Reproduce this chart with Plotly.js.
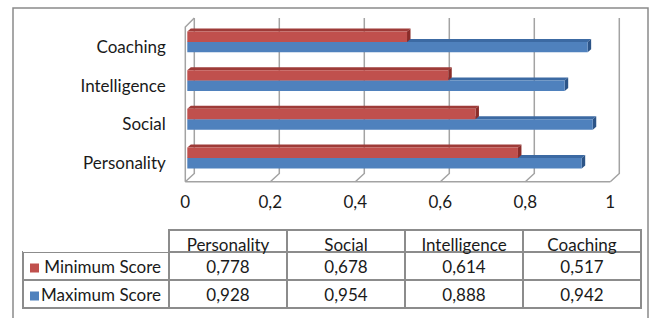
<!DOCTYPE html>
<html><head><meta charset="utf-8">
<script src="https://cdn.plot.ly/plotly-3.0.1.min.js"></script>
<style>html,body{margin:0;padding:0;background:#fff;}#chart{width:651px;height:318px;}</style>
</head><body><div id="chart"></div>
<script>
const categories = ['Personality', 'Social', 'Intelligence', 'Coaching'];
const minScore = [0.778, 0.678, 0.614, 0.517];
const maxScore = [0.928, 0.954, 0.888, 0.942];
const seriesNames = ['Minimum Score', 'Maximum Score'];
const xTickVals = [0, 0.2, 0.4, 0.6, 0.8, 1];
const xTickText = ['0', '0,2', '0,4', '0,6', '0,8', '1'];

const RED = '#c0504d', BLUE = '#4f81bd';
const RED_TOP = '#9e3b38', RED_END = '#8a2c29';
const BLUE_TOP = '#3c6aa3', BLUE_END = '#2c5487';
const FONT = 'Lato, "Open Sans", sans-serif';
const TXT = '#1a1a1a';
const W = 651, H = 318;

// pixel geometry
const xPxPerUnit = 425, yPxPerUnit = 38.7;
const xp = 1 / xPxPerUnit, yp = 1 / yPxPerUnit;
const x0px = 187.3;            // pixel of value 0
const yc0px = 158;             // pixel of category index 0
const xRange = [-0.02, 1.03];
const yRange = [-0.672, 3.669];
const xDom = [(x0px + xRange[0] * xPxPerUnit) / W, (x0px + xRange[1] * xPxPerUnit) / W];
const yTopPx = yc0px - yRange[1] * yPxPerUnit, yBotPx = yc0px - yRange[0] * yPxPerUnit;
const yDom = [(H - yBotPx) / H, (H - yTopPx) / H];

const yIdx = categories.map((c, i) => i);
const bargap = 0.46;
const half = (1 - bargap) / 2;

const wallTop = (yc0px - 18) / yPxPerUnit;
const floorBack = (yc0px - 173.5) / yPxPerUnit;
const floorFront = (yc0px - 181.7) / yPxPerUnit;
const leftWallTop = (yc0px - 27) / yPxPerUnit;
const backDx = 7 * xp, frontDx = -2 * xp;

const shapes = [];
const gridStyle = {color: '#a3a3a3', width: 1.5};
xTickVals.forEach(v => {
  shapes.push({type: 'path', xref: 'x', yref: 'y', layer: 'below', line: gridStyle,
    path: `M ${v + backDx},${wallTop} L ${v + backDx},${floorBack} L ${v + frontDx},${floorFront}`});
});
const xFirst = xTickVals[0], xLast = xTickVals[xTickVals.length - 1];
shapes.push({type: 'path', xref: 'x', yref: 'y', layer: 'below', line: gridStyle,
  path: `M ${xFirst + frontDx},${floorFront} L ${xLast + frontDx},${floorFront}`});
shapes.push({type: 'path', xref: 'x', yref: 'y', layer: 'below', line: gridStyle,
  path: `M ${xFirst + frontDx},${floorFront} L ${xFirst + frontDx},${leftWallTop} L ${xFirst + backDx},${wallTop}`});

// 3D faces of bars
const dx = 3.5 * xp, dy = 3 * yp;
function faces(values, offsetLo, offsetHi, topCol, endCol) {
  values.forEach((v, i) => {
    const lo = yIdx[i] + offsetLo, hi = yIdx[i] + offsetHi;
    shapes.push({type: 'path', xref: 'x', yref: 'y', layer: 'between', fillcolor: topCol, line: {width: 0},
      path: `M 0,${hi} L ${v},${hi} L ${v + dx},${hi + dy} L ${dx},${hi + dy} Z`});
    shapes.push({type: 'path', xref: 'x', yref: 'y', layer: 'between', fillcolor: endCol, line: {width: 0},
      path: `M ${v},${lo} L ${v + dx},${lo + dy} L ${v + dx},${hi + dy} L ${v},${hi} Z`});
  });
}
faces(maxScore, -half, 0, BLUE_TOP, BLUE_END);
faces(minScore, 0, half, RED_TOP, RED_END);

// outer frame
shapes.push({type: 'rect', xref: 'paper', yref: 'paper', layer: 'above',
  x0: 13 / W, x1: 648 / W, y0: -0.05, y1: (H - 8) / H, line: {color: '#8a8a8a', width: 1.5}, fillcolor: 'rgba(0,0,0,0)'});

// legend keys in the table's first column
const keyColors = [RED, BLUE];
const keyTops = [263.5, 291.5];
keyColors.forEach((c, i) => {
  shapes.push({type: 'rect', xref: 'paper', yref: 'paper', layer: 'above',
    x0: 30 / W, x1: 39 / W, y0: (H - keyTops[i] - 9) / H, y1: (H - keyTops[i]) / H,
    fillcolor: c, line: {width: 0}});
});

const fmt = v => v.toFixed(3).replace('.', ',');
const tableLeft = 23, tableRight = 641, tableTop = 230, tableBottom = 312;

const traces = [
  {type: 'bar', orientation: 'h', name: seriesNames[1], y: yIdx, x: maxScore,
   marker: {color: BLUE, line: {width: 0}}, hoverinfo: 'skip'},
  {type: 'bar', orientation: 'h', name: seriesNames[0], y: yIdx, x: minScore,
   marker: {color: RED, line: {width: 0}}, hoverinfo: 'skip'},
  {type: 'table',
   domain: {x: [tableLeft / W, tableRight / W], y: [(H - tableBottom) / H, (H - tableTop) / H]},
   columnwidth: [146, 118, 118, 118, 118],
   header: {values: [''].concat(categories), height: 22, align: 'center',
     fill: {color: 'white'},
     line: {color: ['rgba(0,0,0,0)'].concat(categories.map(() => '#8c8c8c')), width: 1.5},
     font: {family: FONT, size: 17, color: TXT}},
   cells: {values: [seriesNames].concat(categories.map((c, i) => [fmt(minScore[i]), fmt(maxScore[i])])),
     height: 28, align: ['right'].concat(categories.map(() => 'center')), fill: {color: 'white'},
     line: {color: '#8c8c8c', width: 1.5},
     font: {family: FONT, size: 17, color: TXT}}
  }
];

const layout = {
  width: W, height: H, margin: {l: 0, r: 0, t: 0, b: 0},
  paper_bgcolor: 'white', plot_bgcolor: 'rgba(0,0,0,0)',
  showlegend: false, barmode: 'group', bargap: bargap, bargroupgap: 0,
  font: {family: FONT, color: TXT},
  xaxis: {domain: xDom, range: xRange, showgrid: false, zeroline: false, showline: false,
    tickmode: 'array', tickvals: xTickVals, ticktext: xTickText, ticks: '',
    ticklabelshift: -2, ticklabelstandoff: 6, tickfont: {family: FONT, size: 17, color: TXT}, fixedrange: true},
  yaxis: {domain: yDom, range: yRange, showgrid: false, zeroline: false, showline: false,
    tickmode: 'array', tickvals: yIdx, ticktext: categories, ticks: '',
    ticklabelshift: 5, ticklabelstandoff: 12, tickfont: {family: FONT, size: 17, color: TXT}, fixedrange: true},
  shapes: shapes,
  hovermode: false
};
Plotly.newPlot('chart', traces, layout, {staticPlot: true, displayModeBar: false});
</script></body></html>
